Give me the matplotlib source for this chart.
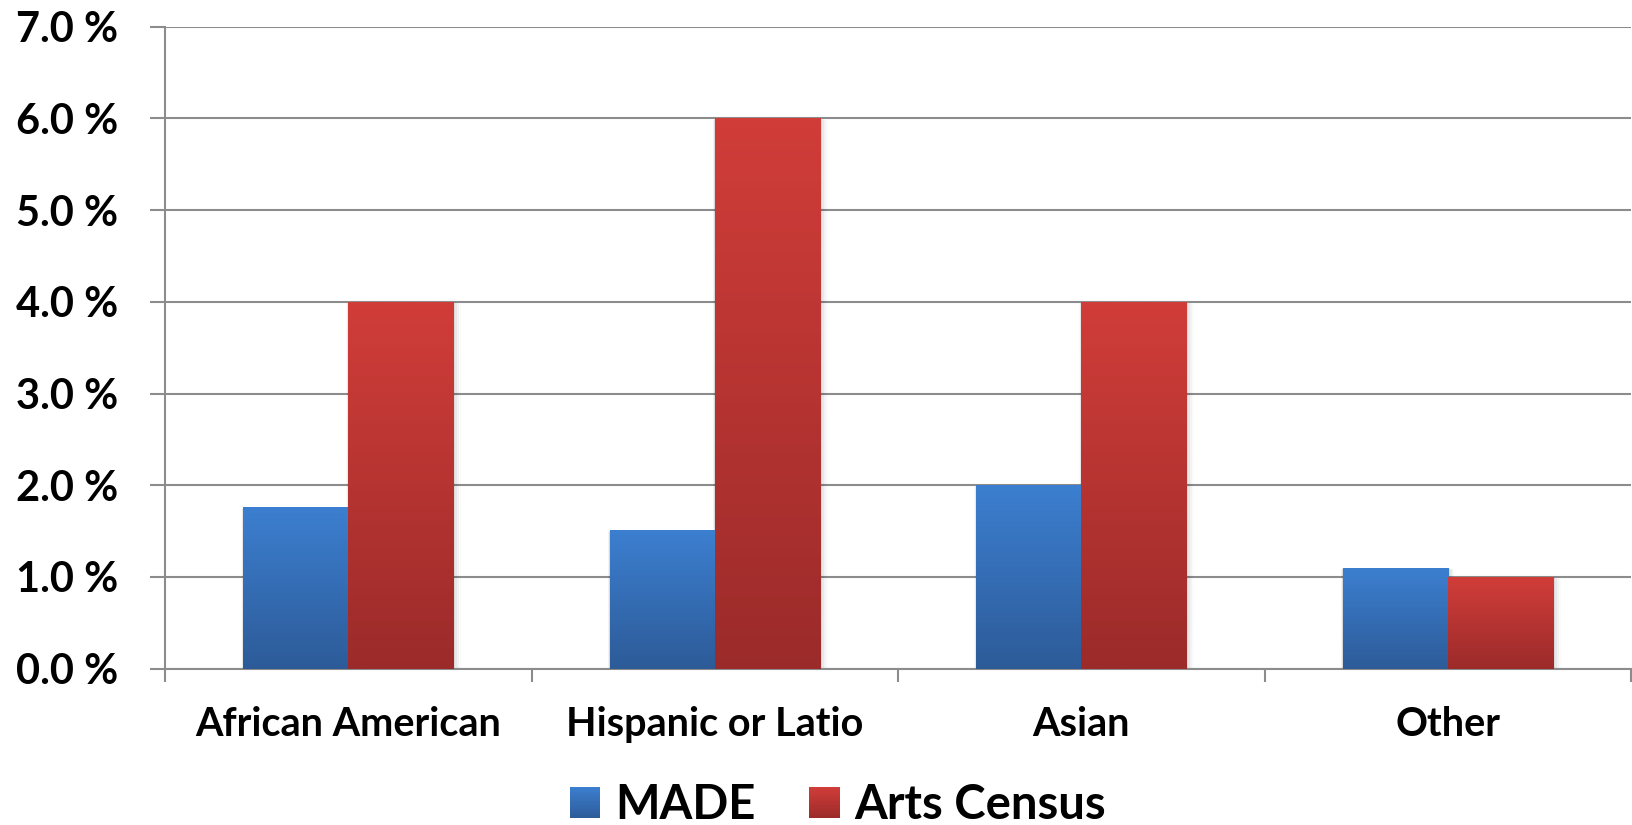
import numpy as np
import matplotlib.pyplot as plt
from matplotlib.colors import LinearSegmentedColormap
from matplotlib.patches import Rectangle
from matplotlib.legend_handler import HandlerBase
from matplotlib.ticker import FuncFormatter

categories = ["African American", "Hispanic or Latio", "Asian", "Other"]
made = [1.76, 1.51, 2.0, 1.1]
arts_census = [4.0, 6.0, 4.0, 1.0]
series_names = ["MADE", "Arts Census"]

blue_top, blue_bottom = "#3c7fd0", "#2d5b98"
red_top, red_bottom = "#d13d39", "#9b2b2a"
grid_gray = "#8c8c8c"

plt.rcParams["font.family"] = ["Lato", "DejaVu Sans"]
plt.rcParams["font.weight"] = "bold"


def make_cmap(top, bottom):
    return LinearSegmentedColormap.from_list("grad", [bottom, top])


class GradientHandler(HandlerBase):
    def __init__(self, top, bottom):
        super().__init__()
        self.cmap = make_cmap(top, bottom)

    def create_artists(self, legend, orig_handle, xdescent, ydescent,
                       width, height, fontsize, trans):
        n = 24
        out = []
        for i in range(n):
            r = Rectangle((-xdescent, -ydescent + height * i / n), width,
                          height / n * 1.1, facecolor=self.cmap((i + 0.5) / n),
                          edgecolor="none", transform=trans)
            out.append(r)
        return out


fig = plt.figure(figsize=(16.32, 8.25), dpi=100)
ax = fig.add_axes([165 / 1632, 1 - 668.7 / 825, 1466 / 1632, 642 / 825])

x = np.arange(len(categories))
width = 0.287
grad = np.linspace(0, 1, 256).reshape(-1, 1)


def gradient_bars(xpos, values, top, bottom):
    bars = ax.bar(xpos, values, width, color="none", edgecolor="none", zorder=3)
    cmap = make_cmap(top, bottom)
    for b in bars:
        x0, y0 = b.get_xy()
        w, h = b.get_width(), b.get_height()
        # soft drop shadow
        for k, a in enumerate([0.06, 0.045, 0.03, 0.015]):
            dx = 0.004 * (k + 1)
            dy = 0.012 * (k + 1)
            ax.add_patch(Rectangle((x0 - dx * 0.3, y0 - dy), w + dx * 1.6, h + dy * 0.6,
                                   facecolor="black", edgecolor="none", alpha=a,
                                   zorder=2.5))
        ax.imshow(grad, extent=[x0, x0 + w, y0, y0 + h], origin="lower",
                  cmap=cmap, aspect="auto", zorder=3, interpolation="bilinear")
    return bars


gradient_bars(x - width / 2, made, blue_top, blue_bottom)
gradient_bars(x + width / 2, arts_census, red_top, red_bottom)

ax.set_xlim(-0.5, len(categories) - 0.5)
ax.set_ylim(0, 7)

ax.set_yticks(np.arange(0, 8, 1))
ax.yaxis.set_major_formatter(FuncFormatter(lambda v, p: f"{v:.1f} %"))
ax.yaxis.grid(True, color=grid_gray, linewidth=1.5, zorder=1)
ax.set_axisbelow(True)
ax.tick_params(axis="y", length=10.8, width=1.5, color=grid_gray, pad=23,
               labelsize=30)

ax.set_xticks(x)
ax.set_xticklabels(categories)
ax.set_xticks(np.arange(-0.5, len(categories), 1), minor=True)
ax.tick_params(axis="x", which="major", length=0, pad=27, labelsize=28.5)
ax.tick_params(axis="x", which="minor", length=9.4, width=1.5, color=grid_gray)

for s in ["top", "right"]:
    ax.spines[s].set_visible(False)
for s in ["left", "bottom"]:
    ax.spines[s].set_color(grid_gray)
    ax.spines[s].set_linewidth(1.5)

h1 = Rectangle((0, 0), 1, 1)
h2 = Rectangle((0, 0), 1, 1)
fig.legend([h1, h2], series_names, loc="center",
           bbox_to_anchor=(838 / 1632, 1 - 805 / 825), ncol=2, frameon=False,
           fontsize=34, handlelength=0.64, handleheight=0.64,
           handletextpad=0.32, columnspacing=1.14, borderpad=0,
           handler_map={h1: GradientHandler(blue_top, blue_bottom),
                        h2: GradientHandler(red_top, red_bottom)})

fig.savefig("out.png", dpi=100)
